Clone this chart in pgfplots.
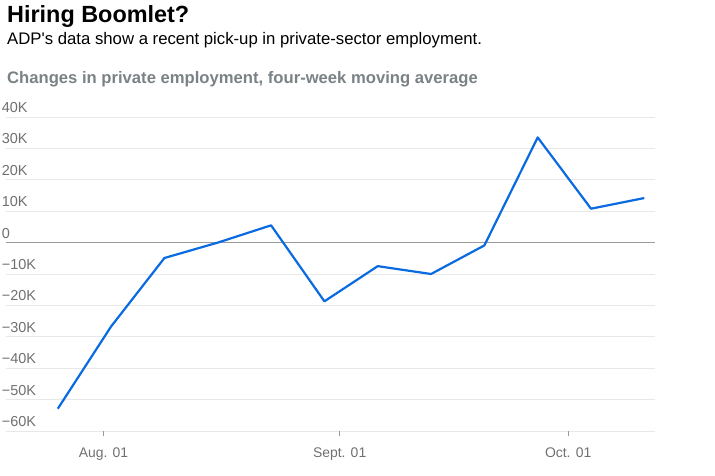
\documentclass[border=0pt]{standalone}
\usepackage{fontspec}
\setmainfont{Liberation Sans}
\usepackage{pgfplots}
\pgfplotsset{compat=1.18}
\definecolor{lineblue}{HTML}{0A6BE0}
\definecolor{gridgray}{HTML}{E8E8E8}
\definecolor{zerogray}{HTML}{9A9A9A}
\definecolor{labelgray}{HTML}{707070}
\definecolor{headgray}{HTML}{7A8285}
\begin{document}
\begin{tikzpicture}
\useasboundingbox (0,0) rectangle (715bp,-476bp);
\node[anchor=base west, inner sep=0] at (7bp,-22.7bp) {\fontsize{23.5}{28}\selectfont\bfseries Hiring Boomlet?};
\node[anchor=base west, inner sep=0] at (7bp,-44.3bp) {\fontsize{16.8}{20}\selectfont ADP\textquotesingle s data show a recent pick-up in private-sector employment.};
\node[anchor=base west, inner sep=0, text=headgray] at (7bp,-83.3bp) {\fontsize{16.7}{20}\selectfont\bfseries Changes in private employment, four-week moving average};
\begin{axis}[
    at={(6bp,-431bp)}, anchor=south west,
    scale only axis, width=649bp, height=314bp,
    xmin=-12.8, xmax=72.4,
    ymin=-60, ymax=40,
    axis line style={draw=none},
    ytick={-60,-50,-40,-30,-20,-10,10,20,30,40},
    yticklabels={−60K,−50K,−40K,−30K,−20K,−10K,10K,20K,30K,40K},
    extra y ticks={0},
    extra y tick labels={0},
    extra y tick style={grid style={color=zerogray, line width=1.2bp}},
    ymajorgrids,
    grid style={color=gridgray, line width=0.8bp},
    ytick style={draw=none},
    yticklabel style={anchor=base west, inner sep=0pt, xshift=0.7bp, yshift=4.6bp,
        text=labelgray, font=\fontsize{14.5}{17}\selectfont},
    xtick={0,31,61},
    xticklabels={Aug. 01, Sept. 01, Oct. 01},
    xtick pos=lower,
    tick align=outside,
    major tick length=5bp,
    xtick style={draw=zerogray, line width=0.8bp},
    xticklabel style={anchor=base, inner sep=0pt, yshift=-21bp,
        text=labelgray, font=\fontsize{14}{17}\selectfont},
]
% days relative to Aug. 01, values in thousands
\addplot[lineblue, line width=2.2bp, line join=round] coordinates {
    (-6,-52.9)
    (1,-26.7)
    (8,-4.9)
    (15,0.0)
    (22,5.5)
    (29,-18.7)
    (36,-7.5)
    (43,-10.0)
    (50,-0.9)
    (57,33.5)
    (64,10.8)
    (71,14.2)
};
\end{axis}
\end{tikzpicture}
\end{document}
